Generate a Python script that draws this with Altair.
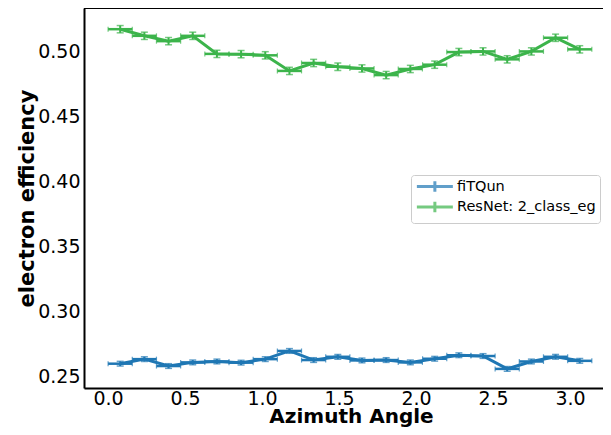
import altair as alt
import pandas as pd

# Bin centres of azimuth angle (20 bins over 0..pi)
azimuth = [0.079, 0.236, 0.393, 0.550, 0.707, 0.864, 1.021, 1.178, 1.335, 1.492,
           1.649, 1.806, 1.963, 2.121, 2.278, 2.435, 2.592, 2.749, 2.906, 3.063]
half_bin = [0.0785] * 20

series_names = ["fiTQun", "ResNet: 2_class_eg"]
series_colors = ["#1f77b4", "#3cb44b"]

fitqun_eff = [0.2595, 0.2630, 0.2577, 0.2605, 0.2612, 0.2603, 0.2630, 0.2693, 0.2623, 0.2648,
              0.2620, 0.2623, 0.2605, 0.2633, 0.2660, 0.2654, 0.2555, 0.2612, 0.2648, 0.2617]
fitqun_err = [0.0018] * 20

resnet_eff = [0.5168, 0.5117, 0.5076, 0.5117, 0.4978, 0.4976, 0.4967, 0.4847, 0.4908, 0.4879,
              0.4866, 0.4815, 0.4862, 0.4895, 0.4992, 0.4997, 0.4936, 0.4997, 0.5102, 0.5013]
resnet_err = [0.0028] * 20

x_ticks = [0.0, 0.5, 1.0, 1.5, 2.0, 2.5, 3.0]
y_ticks = [0.25, 0.30, 0.35, 0.40, 0.45, 0.50]

rows = []
for name, eff, err in [(series_names[0], fitqun_eff, fitqun_err),
                       (series_names[1], resnet_eff, resnet_err)]:
    for x, xe, y, ye in zip(azimuth, half_bin, eff, err):
        rows.append({"series": name, "x": x, "xlo": x - xe, "xhi": x + xe,
                     "y": y, "ylo": y - ye, "yhi": y + ye})
df = pd.DataFrame(rows)

W, H = 519, 380
FONT = "DejaVu Sans"

xscale = alt.Scale(domain=[-0.156, 3.214], nice=False, zero=False)
yscale = alt.Scale(domain=[0.2408, 0.5331], nice=False, zero=False)

xaxis = alt.Axis(values=x_ticks, format=".1f", title="Azimuth Angle", grid=False,
                 ticks=False, domainColor="black", domainWidth=2,
                 labelFont=FONT, labelFontSize=19, labelColor="black",
                 labelBaseline="alphabetic", labelPadding=16, labelFlush=False,
                 titleFont=FONT, titleFontSize=20, titleFontWeight="bold", titleColor="black",
                 titleBaseline="alphabetic", titleX=267, titleY=34, titleAlign="center")
yaxis = alt.Axis(values=y_ticks, format=".2f", title="electron efficiency", grid=False,
                 ticks=False, domainColor="black", domainWidth=2,
                 labelFont=FONT, labelFontSize=19, labelColor="black",
                 labelPadding=4, labelFlush=False,
                 titleFont=FONT, titleFontSize=21, titleFontWeight="bold", titleColor="black",
                 titleAngle=270, titleBaseline="alphabetic", titleAlign="center",
                 titleX=-51, titleY=190)

# custom legend glyph: horizontal bar ~36px with a short vertical error bar in the middle
legend = alt.Legend(title=None, orient="none", legendX=327, legendY=167,
                    symbolType="M-1,0H5.4M2.2,-0.95V0.95", symbolSize=126.5,
                    symbolStrokeWidth=3, symbolFillColor="transparent",
                    labelFont=FONT, labelFontSize=14.5, labelColor="black",
                    labelOffset=27, padding=4, rowPadding=-2.5, labelLimit=200,
                    fillColor="rgba(255,255,255,0.8)", strokeColor="#cccccc",
                    cornerRadius=3)

color = alt.Color("series:N", scale=alt.Scale(domain=series_names, range=series_colors),
                  legend=legend)

base = alt.Chart(df)

line = base.mark_line(strokeWidth=3).encode(
    x=alt.X("x:Q", scale=xscale, axis=xaxis),
    y=alt.Y("y:Q", scale=yscale, axis=yaxis),
    color=color, order="x:Q")

xerr = base.mark_rule(strokeWidth=2.5).encode(
    x=alt.X("xlo:Q", scale=xscale, axis=xaxis), x2="xhi:Q",
    y=alt.Y("y:Q", scale=yscale, axis=yaxis), color=color)

yerr = base.mark_rule(strokeWidth=2).encode(
    x=alt.X("x:Q", scale=xscale, axis=xaxis),
    y=alt.Y("ylo:Q", scale=yscale, axis=yaxis), y2="yhi:Q", color=color)

ycap_hi = base.mark_tick(orient="horizontal", size=7, thickness=1.5).encode(
    x=alt.X("x:Q", scale=xscale, axis=xaxis),
    y=alt.Y("yhi:Q", scale=yscale, axis=yaxis), color=color)
ycap_lo = base.mark_tick(orient="horizontal", size=7, thickness=1.5).encode(
    x=alt.X("x:Q", scale=xscale, axis=xaxis),
    y=alt.Y("ylo:Q", scale=yscale, axis=yaxis), color=color)
xcap_lo = base.mark_tick(orient="vertical", size=5, thickness=1.2).encode(
    x=alt.X("xlo:Q", scale=xscale, axis=xaxis),
    y=alt.Y("y:Q", scale=yscale, axis=yaxis), color=color)
xcap_hi = base.mark_tick(orient="vertical", size=5, thickness=1.2).encode(
    x=alt.X("xhi:Q", scale=xscale, axis=xaxis),
    y=alt.Y("y:Q", scale=yscale, axis=yaxis), color=color)

top_frame = alt.Chart(pd.DataFrame({"k": [0]})).mark_rule(
    color="black", strokeWidth=2).encode(
    x=alt.value(0), x2=alt.value(W), y=alt.value(0))

chart = alt.layer(line, xerr, yerr, ycap_hi, ycap_lo, xcap_lo, xcap_hi, top_frame).properties(
    width=W, height=H,
    autosize=alt.AutoSizeParams(type="none"),
    padding={"left": 76, "top": 0, "right": 0, "bottom": 39},
).configure_view(stroke=None).configure(background="white")

chart.save("out.html", embed_options={"renderer": "svg", "actions": False})
